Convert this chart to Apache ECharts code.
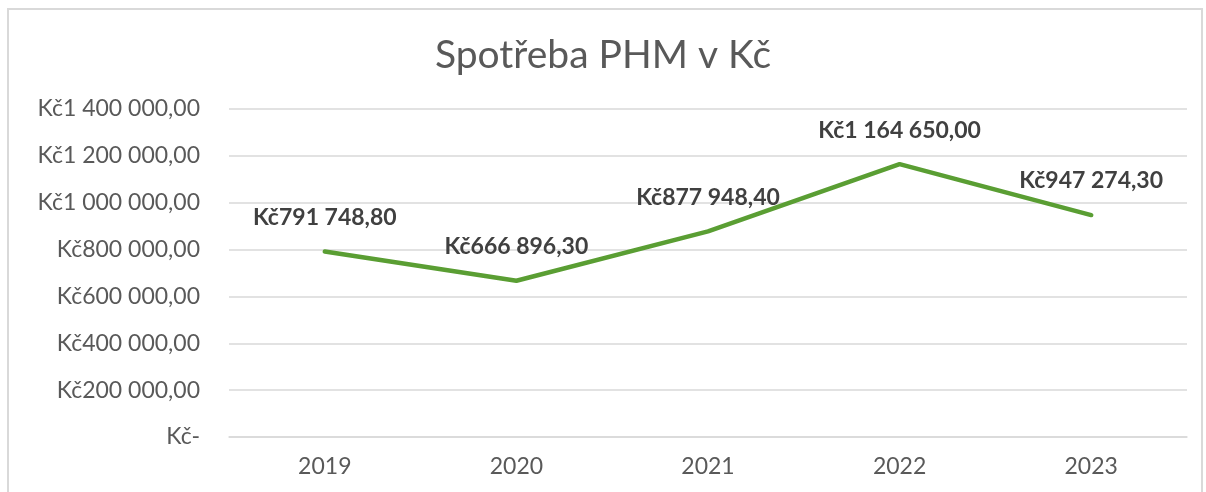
<!DOCTYPE html>
<html>
<head>
<meta charset="utf-8">
<script src="https://cdn.jsdelivr.net/npm/echarts@6/dist/echarts.min.js"></script>
<style>
  html, body { margin: 0; padding: 0; background: #fff; }
  #chart { width: 1206px; height: 492px; }
</style>
</head>
<body>
<div id="chart"></div>
<script>
// data
var years = ['2019', '2020', '2021', '2022', '2023']
var spotreba = [791748.80, 666896.30, 877948.40, 1164650.00, 947274.30]
var yTicks = { min: 0, max: 1400000, step: 200000 }

var FONT = 'Lato, "DejaVu Sans", sans-serif'

function kc (v) {
  if (v === 0) return 'Kč-'
  var parts = v.toFixed(2).split('.')
  var whole = parts[0].replace(/\B(?=(\d{3})+(?!\d))/g, ' ')
  return 'Kč' + whole + ',' + parts[1]
}

var chart = echarts.init(document.getElementById('chart'))
chart.setOption({
  backgroundColor: '#fff',
  animation: false,
  textStyle: { fontFamily: FONT },
  graphic: [{
    type: 'rect',
    shape: { x: 8, y: 9, width: 1194, height: 500 },
    style: { fill: 'none', stroke: '#d9d9d9', lineWidth: 2 }
  }],
  title: {
    text: 'Spotřeba PHM v Kč',
    left: 'center',
    top: 31,
    textStyle: { fontFamily: FONT, fontSize: 39, fontWeight: 'normal', color: '#595959' }
  },
  grid: { left: 229, right: 19, top: 109, bottom: 55 },
  xAxis: {
    type: 'category',
    data: years,
    axisLine: { lineStyle: { color: '#d9d9d9', width: 1.5 } },
    axisTick: { show: false },
    axisLabel: { margin: 18, fontSize: 23, color: '#595959', fontFamily: FONT }
  },
  yAxis: {
    type: 'value',
    min: yTicks.min,
    max: yTicks.max,
    interval: yTicks.step,
    axisLine: { show: false },
    axisTick: { show: false },
    splitLine: { lineStyle: { color: '#d9d9d9', width: 1.5 } },
    axisLabel: { margin: 29, fontSize: 23, color: '#595959', fontFamily: FONT, formatter: kc }
  },
  series: [{
    name: 'Spotřeba PHM',
    type: 'line',
    data: spotreba,
    symbol: 'circle',
    symbolSize: 1,
    showSymbol: true,
    lineStyle: { color: '#5a9e33', width: 4.5, cap: 'round', join: 'round' },
    itemStyle: { color: 'rgba(0,0,0,0)' },
    label: {
      show: true,
      position: 'top',
      distance: 22,
      fontSize: 23,
      fontWeight: 'bold',
      color: '#404040',
      fontFamily: FONT,
      formatter: function (p) { return kc(p.value) }
    }
  }]
})
</script>
</body>
</html>
